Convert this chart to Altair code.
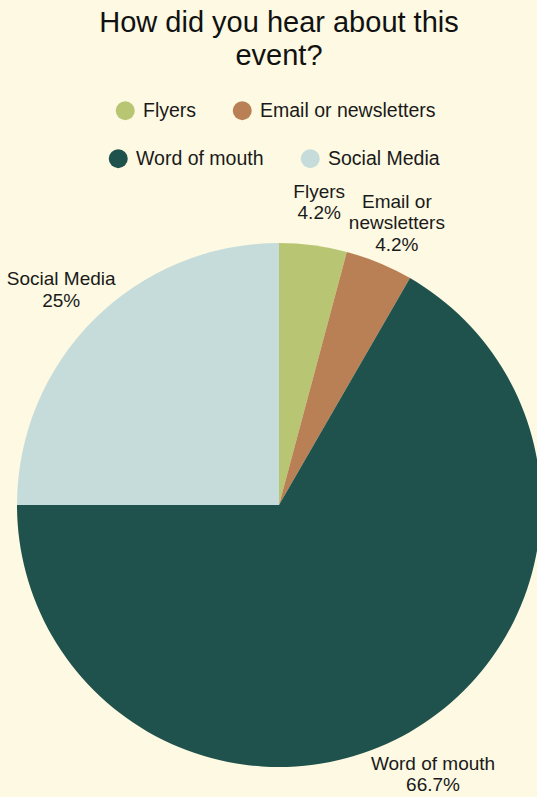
import altair as alt
import pandas as pd

categories = ["Flyers", "Email or newsletters", "Word of mouth", "Social Media"]
counts = [1, 1, 16, 6]
pct_labels = ["4.2%", "4.2%", "66.7%", "25%"]
label_names = ["Flyers", "Email or\nnewsletters", "Word of mouth", "Social Media"]
colors = ["#b8c673", "#b98056", "#1f524c", "#c5dcdb"]
legend_row1 = categories[:2]
legend_row2 = categories[2:]

df = pd.DataFrame({
    "category": categories,
    "count": counts,
    "order": list(range(len(categories))),
    "label": [f"{n}\n{p}" for n, p in zip(label_names, pct_labels)],
})

FONT = "Liberation Sans"
LEG_FONT = 19.5
scale = alt.Scale(domain=categories, range=colors)


def make_legend(values, x, y):
    return alt.Legend(
        title=None,
        orient="none",
        legendX=x,
        legendY=y,
        values=values,
        columns=2,
        direction="horizontal",
        symbolType="circle",
        symbolSize=361,
        symbolStrokeWidth=0,
        symbolOpacity=1,
        labelFont=FONT,
        labelFontSize=LEG_FONT,
        labelColor="#1a1a1a",
        labelOffset=8,
        columnPadding=36,
        labelLimit=300,
    )


base = alt.Chart(df).encode(
    theta=alt.Theta("count:Q", stack=True),
    order=alt.Order("order:Q"),
)

# invisible layer that only carries the second legend row
ghost = base.mark_arc(outerRadius=262, opacity=0, stroke=None).encode(
    fill=alt.Fill("category:N", scale=scale, sort=categories,
                  legend=make_legend(legend_row2, 87.5, -64.5)),
)

pie = base.mark_arc(outerRadius=262, stroke=None).encode(
    color=alt.Color("category:N", scale=scale, sort=categories,
                    legend=make_legend(legend_row1, 94.5, -112.5)),
)

labels = base.mark_text(
    radius=308,
    font=FONT,
    fontSize=19,
    lineBreak="\n",
    lineHeight=21.5,
    align="center",
    baseline="middle",
    color="#1a1a1a",
    dy=alt.expr("3 - (length(split(datum.label, '\\n')) - 1) * 10.75"),
).encode(text="label:N")

chart = (
    alt.layer(ghost, pie, labels)
    .resolve_scale(color="independent", fill="independent")
    .properties(
        width=516,
        height=584,
        padding={"left": 21, "top": 213, "right": 0, "bottom": 0},
        autosize=alt.AutoSizeParams(type="none"),
        background="#fdf9e2",
        title=alt.TitleParams(
            text=["How did you hear about this", "event?"],
            font=FONT,
            fontSize=29,
            fontWeight="normal",
            color="#111111",
            lineHeight=33,
            anchor="middle",
            offset=30,
        ),
    )
    .configure_view(stroke=None)
)

chart.save("out.html", embed_options={"renderer": "svg", "actions": False})
